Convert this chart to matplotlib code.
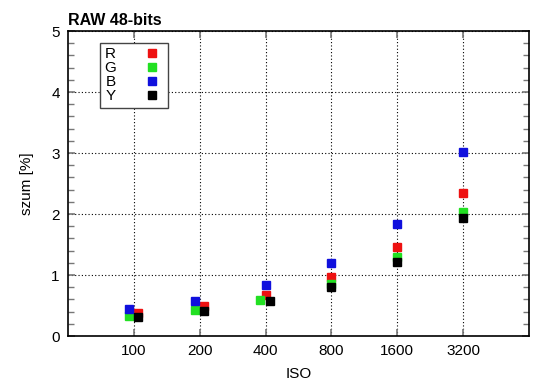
import matplotlib
matplotlib.use('Agg')
import matplotlib.pyplot as plt
from matplotlib.ticker import MultipleLocator

plt.rcParams['font.family'] = ['Liberation Sans', 'DejaVu Sans']

iso_labels = ['100', '200', '400', '800', '1600', '3200']
r_vals = [0.38, 0.50, 0.68, 0.97, 1.46, 2.35]
g_vals = [0.32, 0.43, 0.59, 0.86, 1.30, 2.04]
b_vals = [0.44, 0.58, 0.84, 1.19, 1.84, 3.02]
y_vals = [0.31, 0.41, 0.57, 0.80, 1.21, 1.94]

# small horizontal shifts seen in the original (category units)
r_shift = [0.07, 0.07, 0.0, 0.0, 0.0, 0.0]
g_shift = [-0.07, -0.07, -0.08, 0.0, 0.0, 0.0]
b_shift = [-0.07, -0.07, 0.0, 0.0, 0.0, 0.0]
y_shift = [0.07, 0.07, 0.07, 0.0, 0.0, 0.0]

fig = plt.figure(figsize=(5.5, 3.89), dpi=100)
ax = fig.add_axes([0.1236, 0.1362, 0.8382, 0.7841])

idx = range(len(iso_labels))
series = [('R', r_vals, r_shift, '#ee1111'),
          ('G', g_vals, g_shift, '#22e022'),
          ('B', b_vals, b_shift, '#1010dd'),
          ('Y', y_vals, y_shift, '#000000')]
for name, vals, shift, col in series:
    ax.plot([i + s for i, s in zip(idx, shift)], vals, 's', color=col,
            markersize=6, label=name, zorder=3)

ax.set_xlim(-1, 6)
ax.set_ylim(0, 5)
ax.set_xticks(list(idx))
ax.set_xticklabels(iso_labels)
ax.yaxis.set_major_locator(MultipleLocator(1))
ax.yaxis.set_minor_locator(MultipleLocator(0.2))
ax.grid(True, which='major', linestyle=(0, (1, 2)), color='black', linewidth=0.8)
ax.tick_params(which='both', direction='in', top=True, right=True,
               color='#777777', labelsize=11)
ax.tick_params(which='major', length=5, width=1.2, pad=6)
ax.tick_params(which='minor', length=4, width=1)
for sp in ax.spines.values():
    sp.set_linewidth(1.2)

ax.set_xlabel('ISO', fontsize=11, labelpad=6)
ax.set_ylabel('szum [%]', fontsize=11, labelpad=12)
ax.set_title('RAW 48-bits', loc='left', fontweight='bold', fontsize=11.5, pad=4)

leg = ax.legend(loc='upper left', bbox_to_anchor=(0.069, 0.961), markerfirst=False,
                fancybox=False, framealpha=1, edgecolor='#444444', fontsize=11,
                handletextpad=1.6, borderpad=0.3, labelspacing=0.0,
                borderaxespad=0, handlelength=1.5)
leg.get_frame().set_linewidth(1)

fig.savefig('out.png', dpi=100)
